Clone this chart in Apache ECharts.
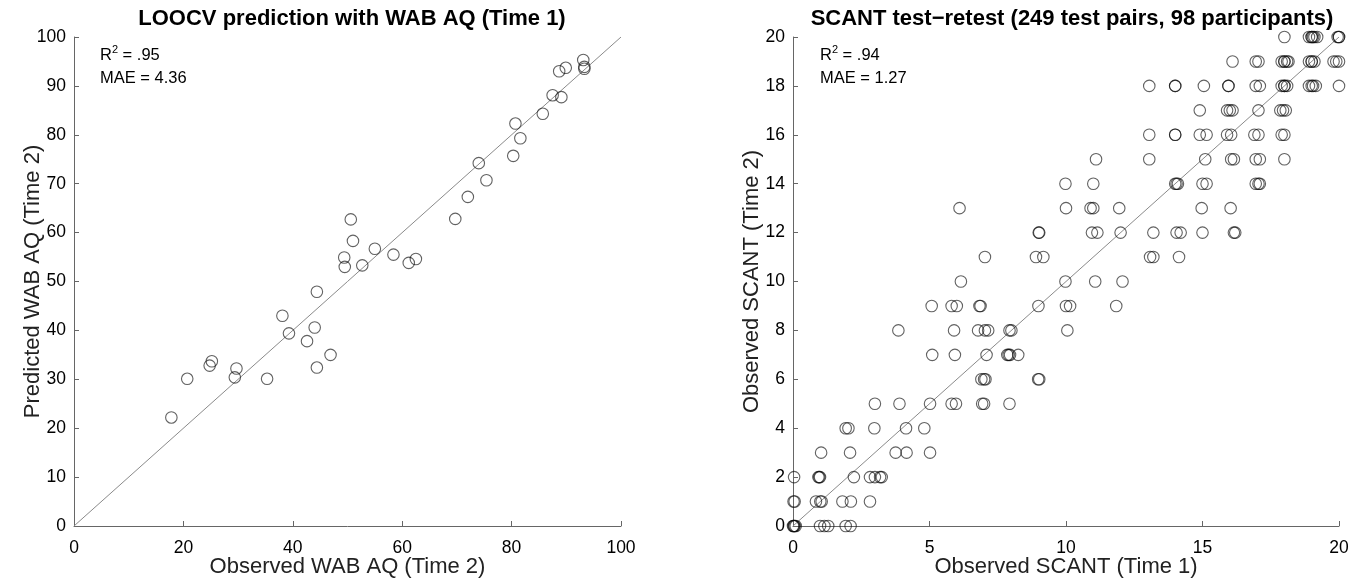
<!DOCTYPE html>
<html>
<head>
<meta charset="utf-8">
<script src="https://cdn.jsdelivr.net/npm/echarts@6/dist/echarts.min.js"></script>
<style>
html,body{margin:0;padding:0;background:#fff;}
#chart{width:1353px;height:580px;}
</style>
</head>
<body>
<div id="chart"></div>
<script>
// ---- Left panel: LOOCV prediction ----
const wabObserved = [17.8,20.7,24.8,25.2,29.7,29.4,35.3,38.1,39.3,44.4,44.0,42.6,44.4,46.9,
  50.6,51.0,49.4,49.5,52.7,55.0,58.4,61.2,62.5,69.7,72.0,75.4,74.0,80.3,81.6,80.7,85.7,87.5,89.1,88.7,89.9,93.1,93.3,93.3];
const wabPredicted = [22.2,30.1,32.8,33.7,32.2,30.4,30.1,43.0,39.4,47.9,40.6,37.8,32.4,35.0,
  62.7,58.3,54.9,53.0,53.3,56.7,55.5,53.8,54.6,62.8,67.3,70.7,74.2,75.7,79.3,82.3,84.3,88.1,87.7,93.0,93.7,95.3,93.9,93.5];
const leftIdentity = [0, 100];
const leftStats = {r2: '.95', mae: '4.36'};

// ---- Right panel: SCANT test-retest ----
const scantRows = [20,19,18,17,16,15,14,13,12,11,10,9,8,7,6,5,4,3,2,1,0];
const scantTime1ByRow = [
  [18.0,18.9,19.0,19.0,19.05,19.1,19.2,19.95,20.0,20.0,20.05],
  [16.1,16.95,17.05,17.9,18.0,18.0,18.1,18.15,18.9,19.0,19.0,19.1,19.8,19.9,20.0],
  [13.05,14.0,14.0,15.05,15.95,15.95,16.95,17.1,17.9,18.0,18.0,18.1,18.9,19.0,19.05,19.15,20.0],
  [14.9,15.9,16.0,16.1,17.05,17.85,17.95,18.05],
  [13.05,14.0,14.0,14.9,15.15,15.9,16.05,16.9,17.05,17.9,18.0],
  [11.1,13.05,15.1,16.05,16.15,16.95,17.1,18.0],
  [9.98,11.0,14.0,14.05,14.1,15.0,15.15,16.95,17.05,17.1],
  [6.1,10.0,10.9,11.0,11.95,14.97,16.03],
  [9.0,9.02,10.95,11.15,12.0,13.2,14.05,14.2,15.0,16.15,16.2],
  [7.03,8.9,9.17,13.08,13.2,14.14],
  [6.15,9.98,11.07,12.07],
  [5.08,5.81,6.0,6.83,6.87,8.99,10.0,10.15,11.84],
  [3.86,5.9,6.78,7.03,7.15,7.93,8.0,10.05],
  [5.1,5.93,7.09,7.85,7.9,7.95,8.25],
  [6.9,7.0,7.05,8.98,9.02],
  [3.0,3.9,5.02,5.81,5.97,6.93,7.0,7.93],
  [1.93,2.03,2.98,4.14,4.81],
  [1.03,2.09,3.76,4.16,5.02],
  [0.04,0.93,0.96,0.99,2.23,2.82,3.0,3.19,3.25],
  [0.02,0.06,0.84,1.0,1.05,1.81,2.12,2.82],
  [0.0,0.02,0.04,0.06,0.1,0.99,1.15,1.29,1.93,2.11]
];
const rightIdentity = [0, 20];
const rightStats = {r2: '.94', mae: '1.27'};

const FONT = "'Liberation Sans', Arial, Helvetica, sans-serif";
const AXIS_COLOR = '#666';

const leftPoints = wabObserved.map((x, i) => [x, wabPredicted[i]]);
const rightPoints = [];
scantRows.forEach((y, r) => scantTime1ByRow[r].forEach(x => rightPoints.push([x, y])));

function axisCommon(isX) {
  return {
    axisLine: {show: true, lineStyle: {color: AXIS_COLOR, width: 1}},
    axisTick: {show: true, inside: true, length: 5, lineStyle: {color: AXIS_COLOR}},
    axisLabel: {color: '#000', fontSize: 17.5, fontFamily: FONT, margin: isX ? 13 : 8},
    splitLine: {show: false},
    nameMoveOverlap: false,
    nameTextStyle: {color: '#222', fontSize: 22, fontFamily: FONT}
  };
}

const grids = [
  {left: 74, top: 37, width: 547, height: 489, outerBoundsMode: 'none', containLabel: false},
  {left: 793, top: 37, width: 546, height: 489, outerBoundsMode: 'none', containLabel: false}
];

const symbolStyle = {color: 'rgba(0,0,0,0)', borderColor: 'rgba(10,10,10,0.8)', borderWidth: 1.1};

function statText(stats) {
  return '{t|R}{s|2}{t| = ' + stats.r2 + '}\n{t|MAE = ' + stats.mae + '}';
}
const statRich = {
  t: {fontSize: 16.5, fontFamily: FONT, color: '#000', lineHeight: 23},
  s: {fontSize: 11, fontFamily: FONT, color: '#000', verticalAlign: 'top', lineHeight: 23}
};

const titleStyle = {fontSize: 22, fontWeight: 'bold', fontFamily: FONT, color: '#000'};

const option = {
  backgroundColor: '#fff',
  animation: false,
  title: [
    {text: 'LOOCV prediction with WAB AQ (Time 1)', left: 347, top: 3, textAlign: 'center', textStyle: titleStyle},
    {text: 'SCANT test\u2212retest (249 test pairs, 98 participants)', left: 1067, top: 3, textAlign: 'center', textStyle: titleStyle}
  ],
  grid: grids,
  xAxis: [
    Object.assign(axisCommon(true), {gridIndex: 0, type: 'value', min: 0, max: 100, interval: 20,
      name: 'Observed WAB AQ (Time 2)', nameLocation: 'middle', nameGap: 30}),
    Object.assign(axisCommon(true), {gridIndex: 1, type: 'value', min: 0, max: 20, interval: 5,
      name: 'Observed SCANT (Time 1)', nameLocation: 'middle', nameGap: 30})
  ],
  yAxis: [
    Object.assign(axisCommon(false), {gridIndex: 0, type: 'value', min: 0, max: 100, interval: 10,
      name: 'Predicted WAB AQ (Time 2)', nameLocation: 'middle', nameGap: 30}),
    Object.assign(axisCommon(false), {gridIndex: 1, type: 'value', min: 0, max: 20, interval: 2,
      name: 'Observed SCANT (Time 2)', nameLocation: 'middle', nameGap: 30})
  ],
  series: [
    {type: 'line', xAxisIndex: 0, yAxisIndex: 0, data: leftIdentity.map(v => [v, v]),
     symbol: 'none', lineStyle: {color: '#8a8a8a', width: 1}, silent: true, z: 1},
    {type: 'scatter', xAxisIndex: 0, yAxisIndex: 0, data: leftPoints, symbol: 'circle', symbolSize: 11.5,
     itemStyle: symbolStyle, z: 2},
    {type: 'line', xAxisIndex: 1, yAxisIndex: 1, data: rightIdentity.map(v => [v, v]),
     symbol: 'none', lineStyle: {color: '#8a8a8a', width: 1}, silent: true, z: 1},
    {type: 'scatter', xAxisIndex: 1, yAxisIndex: 1, data: rightPoints, symbol: 'circle', symbolSize: 11.5,
     itemStyle: symbolStyle, z: 2}
  ],
  graphic: [
    {type: 'text', left: 100, top: 44, style: {text: statText(leftStats), rich: statRich}},
    {type: 'text', left: 820, top: 44, style: {text: statText(rightStats), rich: statRich}}
  ]
};

const chart = echarts.init(document.getElementById('chart'), null, {renderer: 'canvas'});
chart.setOption(option);
</script>
</body>
</html>
